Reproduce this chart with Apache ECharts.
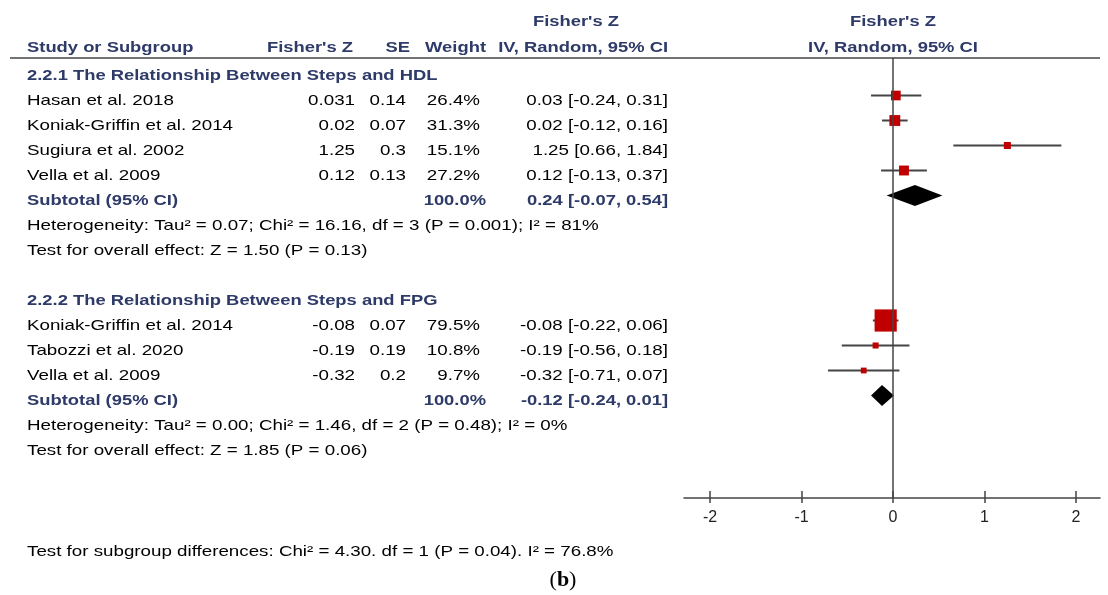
<!DOCTYPE html>
<html><head><meta charset="utf-8">
<script src="https://cdn.jsdelivr.net/npm/echarts@6/dist/echarts.min.js"></script>
<style>html,body{margin:0;padding:0;background:#fff}#c{width:1108px;height:595px}</style>
</head><body><div id="c"></div>
<script>
// ---------- data ----------
const hdlHeading = "2.2.1 The Relationship Between Steps and HDL";
const hdlStudies = ["Hasan et al. 2018", "Koniak-Griffin et al. 2014", "Sugiura et al. 2002", "Vella et al. 2009"];
const hdlZ = [0.031, 0.02, 1.25, 0.12];
const hdlSE = [0.14, 0.07, 0.3, 0.13];
const hdlWeight = [26.4, 31.3, 15.1, 27.2];
const hdlLow = [-0.24, -0.12, 0.66, -0.13];
const hdlHigh = [0.31, 0.16, 1.84, 0.37];
const hdlSubtotal = [0.24, -0.07, 0.54];
const hdlHet = "Heterogeneity: Tau\u00b2 = 0.07; Chi\u00b2 = 16.16, df = 3 (P = 0.001); I\u00b2 = 81%";
const hdlOverall = "Test for overall effect: Z = 1.50 (P = 0.13)";

const fpgHeading = "2.2.2 The Relationship Between Steps and FPG";
const fpgStudies = ["Koniak-Griffin et al. 2014", "Tabozzi et al. 2020", "Vella et al. 2009"];
const fpgZ = [-0.08, -0.19, -0.32];
const fpgSE = [0.07, 0.19, 0.2];
const fpgWeight = [79.5, 10.8, 9.7];
const fpgLow = [-0.22, -0.56, -0.71];
const fpgHigh = [0.06, 0.18, 0.07];
const fpgSubtotal = [-0.12, -0.24, 0.01];
const fpgHet = "Heterogeneity: Tau\u00b2 = 0.00; Chi\u00b2 = 1.46, df = 2 (P = 0.48); I\u00b2 = 0%";
const fpgOverall = "Test for overall effect: Z = 1.85 (P = 0.06)";

const subgroupTest = "Test for subgroup differences: Chi\u00b2 = 4.30. df = 1 (P = 0.04). I\u00b2 = 76.8%";
const xTicks = [-2, -1, 0, 1, 2];
const colHeaders = ["Study or Subgroup", "Fisher's Z", "SE", "Weight", "IV, Random, 95% CI"];
const effectTitle = ["Fisher's Z", "IV, Random, 95% CI"];
const panelLabel = "b";

// ---------- layout ----------
const HDL_START = 0, FPG_START = 9;
const groups = [
  {start: HDL_START, heading: hdlHeading, names: hdlStudies, z: hdlZ, se: hdlSE, w: hdlWeight, lo: hdlLow, hi: hdlHigh, sub: hdlSubtotal, het: hdlHet, overall: hdlOverall},
  {start: FPG_START, heading: fpgHeading, names: fpgStudies, z: fpgZ, se: fpgSE, w: fpgWeight, lo: fpgLow, hi: fpgHigh, sub: fpgSubtotal, het: fpgHet, overall: fpgOverall}
];
const studyRows = [], subRows = [];
groups.forEach(g => {
  g.names.forEach((n, i) => studyRows.push({row: g.start + 1 + i + 0.5, name: n, z: g.z[i], se: g.se[i], w: g.w[i], lo: g.lo[i], hi: g.hi[i]}));
  g.subRow = g.start + 1 + g.names.length + 0.5;
  subRows.push({row: g.subRow, est: g.sub[0], lo: g.sub[1], hi: g.sub[2]});
});

const TOP = 58, BOTTOM = 97;
const FONT = "Liberation Sans";
const SX = 1.25, SXB = 1.225;
const HEAD = "#2e3a68";
const LINE = "#444444";
const xMin = xTicks[0], xMax = xTicks[xTicks.length - 1];

const chart = echarts.init(document.getElementById('c'), null, {renderer: 'canvas'});
chart.setOption({
  animation: false,
  backgroundColor: '#ffffff',
  grid: [
    {left: 710, right: 32, top: TOP, bottom: BOTTOM},
    {left: 684, right: 8, top: TOP, bottom: BOTTOM},
    {left: 710, right: 32, top: TOP, bottom: BOTTOM}
  ],
  xAxis: [
    {type: 'value', gridIndex: 0, min: xMin, max: xMax, interval: 1, position: 'bottom',
     axisLine: {show: false, onZero: false}, splitLine: {show: false},
     axisTick: {show: true, length: 5, lineStyle: {color: LINE, width: 1.5}},
     axisLabel: {show: true, margin: 12, fontFamily: FONT, fontSize: 16, color: '#222'}},
    {type: 'value', gridIndex: 1, min: 0, max: 1, position: 'bottom',
     axisLine: {show: true, onZero: false, lineStyle: {color: LINE, width: 1.5}},
     axisTick: {show: false}, axisLabel: {show: false}, splitLine: {show: false}},
    {type: 'value', gridIndex: 2, min: xMin, max: xMax, interval: 1, position: 'bottom',
     axisLine: {show: false, onZero: false}, splitLine: {show: false},
     axisTick: {show: true, inside: true, length: 7, lineStyle: {color: LINE, width: 1.5}},
     axisLabel: {show: false}}
  ],
  yAxis: [
    {type: 'value', gridIndex: 0, min: 0, max: 17.6, inverse: true, show: false, splitLine: {show: false}},
    {type: 'value', gridIndex: 1, min: 0, max: 1, show: false, splitLine: {show: false}},
    {type: 'value', gridIndex: 2, min: 0, max: 1, show: false, splitLine: {show: false}}
  ],
  series: [
    {
      type: 'custom', name: 'ci', xAxisIndex: 0, yAxisIndex: 0, z: 2,
      data: studyRows.map(r => [r.lo, r.hi, r.row]),
      encode: {x: [0, 1], y: 2},
      renderItem: function (params, api) {
        const a = api.coord([api.value(0), api.value(2)]);
        const b = api.coord([api.value(1), api.value(2)]);
        return {type: 'line', shape: {x1: a[0], y1: a[1], x2: b[0], y2: b[1]},
                style: {stroke: LINE, lineWidth: 2}};
      },
      markLine: {
        silent: true, symbol: ['none', 'none'], label: {show: false},
        lineStyle: {color: LINE, width: 1.5, type: 'solid'},
        data: [{xAxis: 0}]
      }
    },
    {
      type: 'scatter', name: 'studies', xAxisIndex: 0, yAxisIndex: 0, z: 3,
      symbol: 'rect',
      data: studyRows.map(r => [r.z, r.row, r.w]),
      symbolSize: function (v) { return 3.5 + 0.235 * v[2]; },
      itemStyle: {color: '#c00000', opacity: 1},
      emphasis: {disabled: true}
    },
    {
      type: 'custom', name: 'subtotal', xAxisIndex: 0, yAxisIndex: 0, z: 3,
      data: subRows.map(r => [r.est, r.lo, r.hi, r.row]),
      encode: {x: [0, 1, 2], y: 3},
      renderItem: function (params, api) {
        const c = api.coord([api.value(0), api.value(3)]);
        const l = api.coord([api.value(1), api.value(3)]);
        const h = api.coord([api.value(2), api.value(3)]);
        const hh = 10.5;
        return {type: 'polygon', shape: {points: [[l[0], c[1]], [c[0], c[1] - hh], [h[0], c[1]], [c[0], c[1] + hh]]},
                style: {fill: '#000000'}};
      }
    }
  ]
});

// ---------- table text ----------
const g = [];
function txt(x, y, s, opt) {
  opt = opt || {};
  g.push({
    type: 'text', x: x, y: y, scaleX: opt.bold ? SXB : SX, silent: true,
    style: {x: 0, y: 0, text: s, fill: opt.color || '#000', align: opt.align || 'left', verticalAlign: 'middle',
            font: (opt.bold ? 'bold ' : '') + (opt.size || 15) + 'px "' + FONT + '"'}
  });
}
const rowY = r => chart.convertToPixel({yAxisIndex: 0}, r) + 5;
const C_NAME = 27, C_Z = 355, C_SE = 406, C_W = 480, C_CI = 668;
const f2 = v => v.toFixed(2);
const ci = (e, l, h) => f2(e) + ' [' + f2(l) + ', ' + f2(h) + ']';

// headers
txt(576, 22, effectTitle[0], {bold: true, color: HEAD, align: 'center'});
txt(C_NAME, 48, colHeaders[0], {bold: true, color: HEAD});
txt(353, 48, colHeaders[1], {bold: true, color: HEAD, align: 'right'});
txt(410, 48, colHeaders[2], {bold: true, color: HEAD, align: 'right'});
txt(486, 48, colHeaders[3], {bold: true, color: HEAD, align: 'right'});
txt(C_CI, 48, colHeaders[4], {bold: true, color: HEAD, align: 'right'});
const zx = chart.convertToPixel({xAxisIndex: 0}, 0);
txt(zx, 22, effectTitle[0], {bold: true, color: HEAD, align: 'center'});
txt(zx, 48, effectTitle[1], {bold: true, color: HEAD, align: 'center'});

g.push({type: 'line', silent: true, shape: {x1: 10, y1: TOP, x2: 1100, y2: TOP}, style: {stroke: LINE, lineWidth: 1.5}});

groups.forEach(gr => {
  txt(C_NAME, rowY(gr.start + 0.5), gr.heading, {bold: true, color: HEAD});
  gr.names.forEach((n, i) => {
    const y = rowY(gr.start + 1 + i + 0.5);
    txt(C_NAME, y, n);
    txt(C_Z, y, String(gr.z[i]), {align: 'right'});
    txt(C_SE, y, String(gr.se[i]), {align: 'right'});
    txt(C_W, y, gr.w[i].toFixed(1) + '%', {align: 'right'});
    txt(C_CI, y, ci(gr.z[i], gr.lo[i], gr.hi[i]), {align: 'right'});
  });
  const ys = rowY(gr.subRow);
  txt(C_NAME, ys, 'Subtotal (95% CI)', {bold: true, color: HEAD});
  const wsum = gr.w.reduce((a, b) => a + b, 0);
  txt(486, ys, wsum.toFixed(1) + '%', {bold: true, color: HEAD, align: 'right'});
  txt(C_CI, ys, ci(gr.sub[0], gr.sub[1], gr.sub[2]), {bold: true, color: HEAD, align: 'right'});
  txt(C_NAME, rowY(gr.subRow + 1), gr.het);
  txt(C_NAME, rowY(gr.subRow + 2), gr.overall);
});

txt(C_NAME, 552, subgroupTest);
g.push({
  type: 'text', x: 563, y: 580, silent: true,
  style: {x: 0, y: 0, align: 'center', verticalAlign: 'middle',
          text: '{p|(}{b|' + panelLabel + '}{p|)}',
          rich: {p: {font: '22px "Liberation Serif"', fill: '#000'}, b: {font: 'bold 22px "Liberation Serif"', fill: '#000'}}}
});

chart.setOption({graphic: g});
</script>
</body></html>
